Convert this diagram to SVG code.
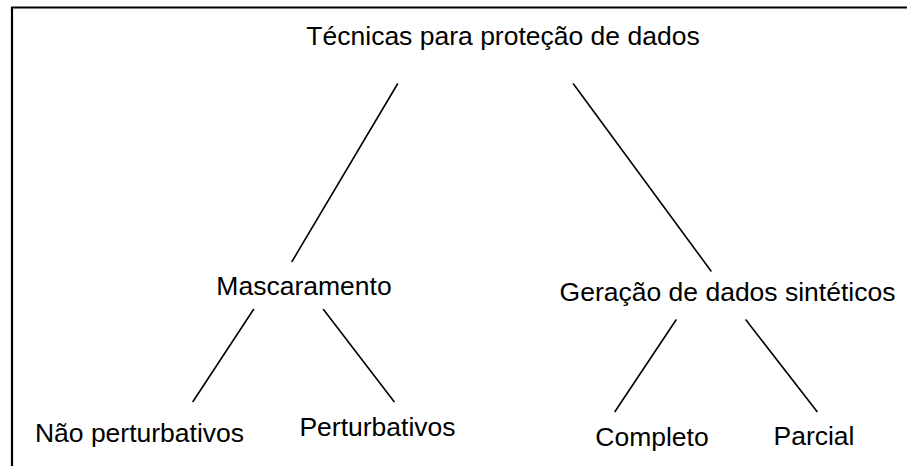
<svg xmlns="http://www.w3.org/2000/svg" width="907" height="466" viewBox="0 0 907 466">
<style>
.lbl{font-family:"Liberation Sans",Arial,sans-serif;font-size:26.5px;fill:#000;text-anchor:middle}
.edge{stroke:#000;stroke-width:1.6;fill:none;stroke-linecap:round}
</style>
<rect width="907" height="466" fill="#fff"/>
<path d="M12,466 V7.5 H907" fill="none" stroke="#000" stroke-width="2.2"/>
<g id="connectors">
<line class="edge" x1="397.5" y1="84" x2="292" y2="261.5"/>
<line class="edge" x1="573.5" y1="84" x2="711" y2="271"/>
<line class="edge" x1="253.5" y1="309.5" x2="193" y2="401.5"/>
<line class="edge" x1="323.5" y1="309.5" x2="394" y2="401.5"/>
<line class="edge" x1="676" y1="320" x2="615" y2="411.5"/>
<line class="edge" x1="746" y1="320" x2="817" y2="411.5"/>
</g>
<g id="root"><text class="lbl" x="503" y="45">Técnicas para proteção de dados</text></g>
<g id="mascaramento"><text class="lbl" x="304" y="295">Mascaramento</text></g>
<g id="geracao"><text class="lbl" x="727.5" y="301">Geração de dados sintéticos</text></g>
<g id="nao-perturbativos"><text class="lbl" x="139.5" y="442">Não perturbativos</text></g>
<g id="perturbativos"><text class="lbl" x="377.5" y="436">Perturbativos</text></g>
<g id="completo"><text class="lbl" x="652" y="446">Completo</text></g>
<g id="parcial"><text class="lbl" x="814" y="445">Parcial</text></g>
</svg>
